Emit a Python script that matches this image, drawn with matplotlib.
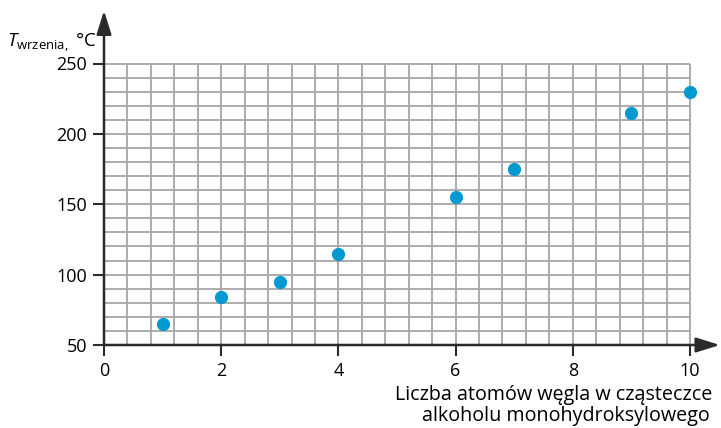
import numpy as np
import matplotlib
matplotlib.use("Agg")
import matplotlib.pyplot as plt

plt.rcParams['font.family'] = ['Open Sans', 'DejaVu Sans']
plt.rcParams['mathtext.fontset'] = 'custom'
plt.rcParams['mathtext.rm'] = 'Open Sans'
plt.rcParams['mathtext.it'] = 'Open Sans:italic'

# dane
atomy_c = [1, 2, 3, 4, 6, 7, 9, 10]
t_wrzenia = [65, 84, 95, 115, 155, 175, 215, 230]
x_ticks = [0, 2, 4, 6, 8, 10]
y_ticks = [50, 100, 150, 200, 250]

W, H = 721, 428
x0, x1 = 104, 690      # piksele osi x (0 i 10)
y0, y1 = 345, 63.5     # piksele osi y (50 i 250), od góry

fig = plt.figure(figsize=(W / 100, H / 100), dpi=100)
ax = fig.add_axes([x0 / W, (H - y0) / H, (x1 - x0) / W, (y0 - y1) / H])
ax.set_xlim(0, 10)
ax.set_ylim(50, 250)

# siatka
grid_c = '#a6a6a6'
ax.vlines(np.arange(0.4, 10.01, 0.4), 50, 250, color=grid_c, lw=1.3, clip_on=False, zorder=1)
ax.hlines(np.arange(60, 250.1, 10), 0, 10, color=grid_c, lw=1.3, clip_on=False, zorder=1)

for s in ax.spines.values():
    s.set_visible(False)

axis_c = '#2b2b2b'
ax.set_xticks(x_ticks)
ax.set_yticks(y_ticks)
ax.tick_params(axis='x', length=8, width=1.5, color=axis_c, pad=4, labelsize=13)
ax.tick_params(axis='y', length=8, width=1.5, color=axis_c, pad=4, labelsize=13)

# osie ze strzałkami
arrow = dict(arrowstyle='-|>,head_length=0.8,head_width=0.25', mutation_scale=18,
             lw=1.8, color=axis_c, shrinkA=0, shrinkB=0)
ax.annotate('', xy=(0, 1.188), xytext=(0, 0), xycoords='axes fraction',
            textcoords='axes fraction', arrowprops=arrow, annotation_clip=False)
ax.annotate('', xy=(1.051, 0), xytext=(0, 0), xycoords='axes fraction',
            textcoords='axes fraction', arrowprops=arrow, annotation_clip=False)

ax.plot(atomy_c, t_wrzenia, 'o', color='#0099d1', markersize=8.5, clip_on=False, zorder=5)

fig.text(96 / W, (H - 47) / H, r'$T_{\mathrm{wrzenia,}}$ °C', ha='right', va='baseline', fontsize=13.5)
fig.text(712 / W, (H - 400) / H, 'Liczba atomów węgla w cząsteczce',
         ha='right', va='baseline', fontsize=14.2)
fig.text(710 / W, (H - 421) / H, 'alkoholu monohydroksylowego',
         ha='right', va='baseline', fontsize=14.2)

fig.savefig('out.png', dpi=100)
